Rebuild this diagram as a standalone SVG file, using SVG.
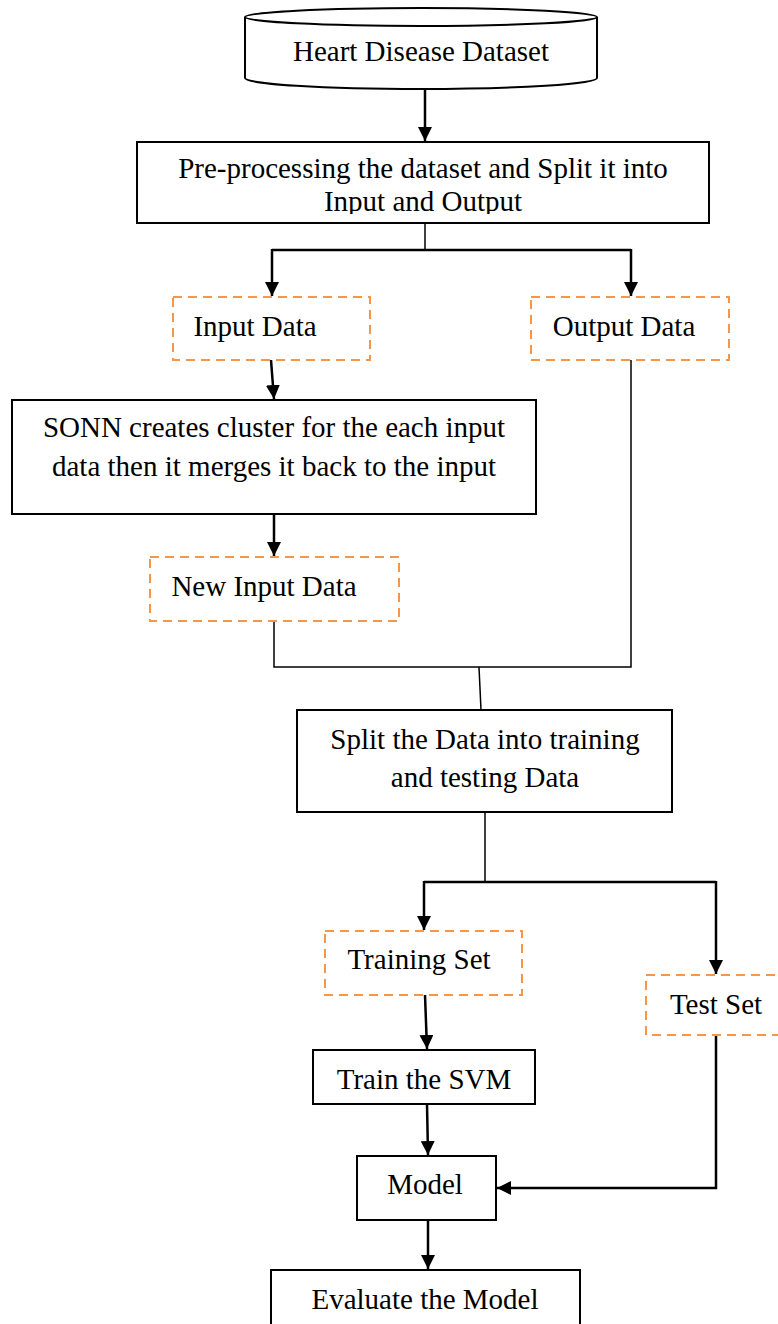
<svg xmlns="http://www.w3.org/2000/svg" width="778" height="1324" viewBox="0 0 778 1324">
  <style>
    .box { fill: #ffffff; stroke: #000000; stroke-width: 2; }
    .dash { fill: #ffffff; stroke: #F79646; stroke-width: 2; stroke-dasharray: 9 6; }
    .lbl { font-family: "Liberation Serif", "Times New Roman", serif; font-size: 29px; fill: #000000; text-anchor: middle; }
    .arrow { fill: none; stroke: #000000; stroke-width: 2.5; marker-end: url(#head); }
    .bus { fill: none; stroke: #000000; stroke-width: 2.5; }
    .thin { fill: none; stroke: #000000; stroke-width: 1.5; }
  </style>
  <defs>
    <marker id="head" markerUnits="userSpaceOnUse" markerWidth="14" markerHeight="14" refX="14" refY="7" orient="auto">
      <path d="M0,0 L14,7 L0,14 Z" fill="#000000"/>
    </marker>
    <clipPath id="clipPre">
      <rect x="137" y="142" width="572" height="72"/>
    </clipPath>
  </defs>
  <rect width="778" height="1324" fill="#ffffff"/>

  <!-- connectors -->
  <g id="connectors">
    <path class="arrow" d="M425,89 L425,141"/>
    <path class="thin" d="M425,223 L425,250"/>
    <path class="bus" d="M272,250 L631,250"/>
    <path class="arrow" d="M272,249 L272,296"/>
    <path class="arrow" d="M631,249 L631,296"/>
    <path class="arrow" d="M271,360 L274,399"/>
    <path class="arrow" d="M274,514 L274,556"/>
    <path class="thin" d="M274,621 L274,667 L631,667 L631,360"/>
    <path class="thin" d="M479,667 L481,710"/>
    <path class="thin" d="M485,812 L485,882"/>
    <path class="bus" d="M424,882 L716,882"/>
    <path class="arrow" d="M424,881 L424,930"/>
    <path class="arrow" d="M716,881 L716,974"/>
    <path class="arrow" d="M425,995 L427,1049"/>
    <path class="arrow" d="M427,1104 L428,1155"/>
    <path class="arrow" d="M716,1035 L716,1188 L497,1188"/>
    <path class="arrow" d="M428,1220 L428,1269"/>
  </g>

  <!-- dataset cylinder -->
  <g id="dataset">
    <path class="box" d="M245,17 L245,78 A176,11 0 0 0 597,78 L597,17"/>
    <ellipse class="box" cx="421" cy="17" rx="176" ry="9"/>
    <text class="lbl" x="421" y="61">Heart Disease Dataset</text>
  </g>

  <g id="preprocess">
    <rect class="box" x="137" y="142" width="572" height="81"/>
    <g clip-path="url(#clipPre)">
      <text class="lbl" x="423" y="178">Pre-processing the dataset and Split it into</text>
      <text class="lbl" x="423" y="211">Input and Output</text>
    </g>
  </g>

  <g id="input-data">
    <rect class="dash" x="173" y="297" width="197" height="63"/>
    <text class="lbl" x="255" y="336">Input Data</text>
  </g>

  <g id="output-data">
    <rect class="dash" x="531" y="297" width="198" height="63"/>
    <text class="lbl" x="624" y="336">Output Data</text>
  </g>

  <g id="sonn">
    <rect class="box" x="12" y="400" width="524" height="114"/>
    <text class="lbl" x="274" y="437">SONN creates cluster for the each input</text>
    <text class="lbl" x="274" y="476">data then it merges it back to the input</text>
  </g>

  <g id="new-input">
    <rect class="dash" x="150" y="557" width="249" height="64"/>
    <text class="lbl" x="264" y="596">New Input Data</text>
  </g>

  <g id="split">
    <rect class="box" x="297" y="710" width="375" height="102"/>
    <text class="lbl" x="485" y="749">Split the Data into training</text>
    <text class="lbl" x="485" y="787">and testing Data</text>
  </g>

  <g id="training-set">
    <rect class="dash" x="325" y="931" width="197" height="64"/>
    <text class="lbl" x="419" y="969">Training Set</text>
  </g>

  <g id="test-set">
    <rect class="dash" x="646" y="975" width="150" height="60"/>
    <text class="lbl" x="716" y="1014">Test Set</text>
  </g>

  <g id="train-svm">
    <rect class="box" x="313" y="1050" width="222" height="54"/>
    <text class="lbl" x="424" y="1089">Train the SVM</text>
  </g>

  <g id="model">
    <rect class="box" x="357" y="1156" width="139" height="64"/>
    <text class="lbl" x="425" y="1194">Model</text>
  </g>

  <g id="evaluate">
    <rect class="box" x="271" y="1270" width="309" height="70"/>
    <text class="lbl" x="425" y="1309">Evaluate the Model</text>
  </g>
</svg>
